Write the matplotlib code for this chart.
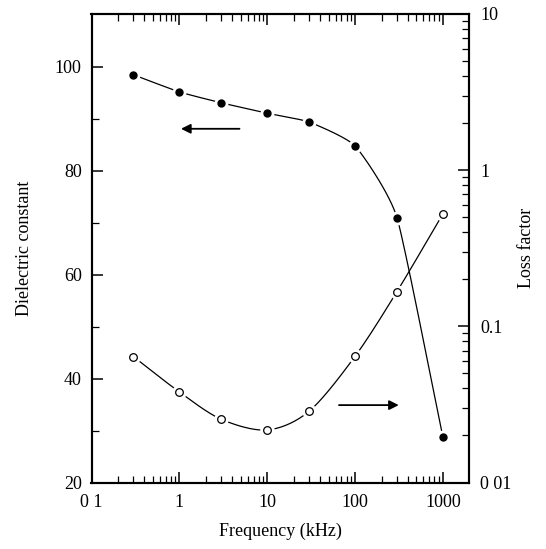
import numpy as np
import matplotlib
matplotlib.use("Agg")
import matplotlib.pyplot as plt
from matplotlib.ticker import FixedLocator, FixedFormatter, LogLocator, NullFormatter

# data
freq = [0.3, 1, 3, 10, 30, 100, 300, 1000]  # kHz
dielectric = [98.5, 95.2, 93.1, 91.1, 89.4, 84.8, 71.0, 28.7]
loss = [0.064, 0.038, 0.0254, 0.0217, 0.0286, 0.0643, 0.167, 0.525]

x_ticks = [0.1, 1, 10, 100, 1000]
x_ticklabels = ["0 1", "1", "10", "100", "1000"]
left_ticks = [20, 40, 60, 80, 100]
right_ticks = [0.01, 0.1, 1, 10]
right_ticklabels = ["0 01", "0.1", "1", "10"]

plt.rcParams["font.family"] = ["Liberation Serif", "DejaVu Serif"]
plt.rcParams["font.size"] = 13


def smooth(xs, ys, tension=0.0, n=30):
    # cardinal spline through the points (only for the connecting line)
    p = np.column_stack([xs, ys])
    p = np.vstack([2 * p[0] - p[1], p, 2 * p[-1] - p[-2]])
    t = np.linspace(0, 1, n)[:, None]
    h00 = 2 * t ** 3 - 3 * t ** 2 + 1
    h10 = t ** 3 - 2 * t ** 2 + t
    h01 = -2 * t ** 3 + 3 * t ** 2
    h11 = t ** 3 - t ** 2
    out = []
    for i in range(1, len(p) - 2):
        m1 = (1 - tension) * (p[i + 1] - p[i - 1]) / 2
        m2 = (1 - tension) * (p[i + 2] - p[i]) / 2
        out.append(h00 * p[i] + h10 * m1 + h01 * p[i + 1] + h11 * m2)
    out = np.vstack(out)
    return out[:, 0], out[:, 1]


fig = plt.figure(figsize=(5.46, 5.49), dpi=100)
ax = fig.add_axes([91.5 / 546, 1 - 482.5 / 549, (469 - 91.5) / 546, (482.5 - 14) / 549])
ax.set_xscale("log")
ax.set_xlim(0.1, 1980)
ax.set_ylim(20, 110.2)

ax2 = ax.twinx()
ax2.set_yscale("log")
ax2.set_ylim(0.01, 10)

# dielectric constant (left axis)
lx, ly = smooth(np.log10(freq), dielectric, tension=0.5)
ax.plot(10 ** lx, ly, color="black", lw=0.9, zorder=2)
ax.plot(freq, dielectric, "o", ms=9, color="white", mec="white", zorder=3)
ax.plot(freq, dielectric, "o", ms=5, color="black", zorder=4)

# loss factor (right axis)
lx, ly = smooth(np.log10(freq), np.log10(loss), tension=0.1)
ax2.plot(10 ** lx, 10 ** ly, color="black", lw=0.9, zorder=2)
ax2.plot(freq, loss, "o", ms=9.5, color="white", mec="white", zorder=3)
ax2.plot(freq, loss, "o", ms=5.5, mfc="white", mec="black", mew=0.9, zorder=4)

# arrows pointing to the matching axis
ax.annotate("", xy=(0.97, 88.1), xytext=(5.2, 88.1),
            arrowprops=dict(arrowstyle="-|>", color="black", lw=1.3, mutation_scale=14))
ax.annotate("", xy=(338, 34.9), xytext=(61, 34.9),
            arrowprops=dict(arrowstyle="-|>", color="black", lw=1.3, mutation_scale=14))

# ticks
ax.xaxis.set_major_locator(FixedLocator(x_ticks))
ax.xaxis.set_major_formatter(FixedFormatter(x_ticklabels))
ax.xaxis.set_minor_locator(LogLocator(base=10, subs=np.arange(2, 10), numticks=20))
ax.xaxis.set_minor_formatter(NullFormatter())
ax.yaxis.set_major_locator(FixedLocator(left_ticks))
ax.yaxis.set_minor_locator(FixedLocator([30, 50, 70, 90]))
ax.tick_params(axis="x", which="both", direction="in", top=True, pad=8)
ax.tick_params(axis="y", which="both", direction="in", right=False, pad=7)
ax.tick_params(which="major", length=8, width=1.1)
ax.tick_params(which="minor", length=5, width=0.9)

ax2.yaxis.set_major_locator(FixedLocator(right_ticks))
ax2.yaxis.set_major_formatter(FixedFormatter(right_ticklabels))
ax2.yaxis.set_minor_locator(LogLocator(base=10, subs=np.arange(2, 10), numticks=20))
ax2.yaxis.set_minor_formatter(NullFormatter())
ax2.tick_params(axis="y", which="both", direction="in", pad=8)
ax2.tick_params(which="major", length=8, width=1.1)
ax2.tick_params(which="minor", length=5, width=0.9)

for a in (ax, ax2):
    for s in a.spines.values():
        s.set_linewidth(1.5)

ax.set_xlabel("Frequency (kHz)", labelpad=9)
ax.set_ylabel("Dielectric constant", labelpad=16)
ax2.set_ylabel("Loss factor", labelpad=5)

fig.savefig("out.png", dpi=100)
